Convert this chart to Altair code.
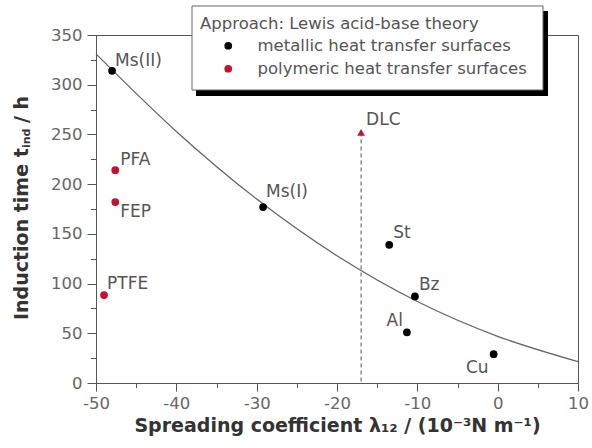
import altair as alt
import pandas as pd

# metallic heat transfer surfaces
metal_names = ["Ms(II)", "Ms(I)", "St", "Bz", "Al", "Cu"]
metal_x = [-48.0, -29.2, -13.5, -10.3, -11.3, -0.5]
metal_y = [314, 177, 139, 87, 51, 29]

# polymeric heat transfer surfaces
poly_names = ["PTFE", "PFA", "FEP"]
poly_x = [-49.0, -47.6, -47.6]
poly_y = [88.5, 214, 182]

# diamond-like carbon coating
dlc_name = "DLC"
dlc_x = -17.0
dlc_y = 252

# trend curve through the metallic surfaces
fit_x = [-50, -40, -30, -20, -10, 0, 10]
fit_y = [331, 253, 185, 128, 82, 47, 21.5]

metal_label = "metallic heat transfer surfaces"
poly_label = "polymeric heat transfer surfaces"

FONT = "DejaVu Sans"
RED = "#c8102e"
GREY = "#555555"

points = pd.DataFrame({
    "name": metal_names + poly_names,
    "x": metal_x + poly_x,
    "y": metal_y + poly_y,
    "group": [metal_label] * len(metal_names) + [poly_label] * len(poly_names),
})
dlc = pd.DataFrame({"name": [dlc_name], "x": [dlc_x], "y": [dlc_y]})
fit = pd.DataFrame({"x": fit_x, "y": fit_y})
labels = pd.concat([points[["name", "x", "y"]], dlc], ignore_index=True)

# label placement around each marker: (align, dx, dy)
label_style = {
    "Ms(II)": ("left", 3, -10),
    "Ms(I)": ("left", 3, -15),
    "St": ("left", 4, -12),
    "Bz": ("left", 4, -11),
    "Al": ("right", -4, -11),
    "Cu": ("right", -5, 14),
    "PTFE": ("left", 3, -11),
    "PFA": ("left", 5, -10),
    "FEP": ("left", 5, 10),
    "DLC": ("left", 5, -12),
}

xs = alt.Scale(domain=[-50, 10], nice=False, zero=False)
ys = alt.Scale(domain=[0, 350], nice=False, zero=False)

x_major = alt.Axis(
    orient="bottom", values=list(range(-50, 11, 10)), tickSize=8, labelPadding=4,
    labelFont=FONT, labelFontSize=16.5, labelColor="#666666", labelFlush=False,
    labelExpr="toString(datum.value)",
    domainColor=GREY, tickColor=GREY, grid=False,
    title="Spreading coefficient λ₁₂ / (10⁻³N m⁻¹)", titleFont=FONT,
    titleFontSize=19, titleFontWeight="bold", titleColor="#333333", titlePadding=5,
)
y_major = alt.Axis(
    orient="left", values=list(range(0, 351, 50)), tickSize=9, labelPadding=5,
    labelFont=FONT, labelFontSize=16.5, labelColor="#666666", labelFlush=False,
    domainColor=GREY, tickColor=GREY, grid=False, title=None,
)
x_minor = alt.Axis(
    orient="bottom", values=list(range(-50, 11, 5)), tickSize=4.5, labels=False,
    domain=False, tickColor=GREY, grid=False, title=None,
)
y_minor = alt.Axis(
    orient="left", values=list(range(0, 351, 25)), tickSize=5.5, labels=False,
    domain=False, tickColor=GREY, grid=False, title=None,
)

curve = alt.Chart(fit).mark_line(color="#666666", strokeWidth=1.3, interpolate="monotone").encode(
    x=alt.X("x:Q", scale=xs, axis=x_minor),
    y=alt.Y("y:Q", scale=ys, axis=y_minor),
)

dlc_rule = alt.Chart(dlc).mark_rule(color=GREY, strokeDash=[4, 3], strokeWidth=1).encode(
    x=alt.X("x:Q", scale=xs, axis=None),
    y=alt.Y("y:Q", scale=ys, axis=None),
    y2=alt.datum(0),
)

# framed legend box with a drop shadow
box_src = pd.DataFrame({"k": [0]})
shadow = alt.Chart(box_src).mark_rect(fill="black").encode(
    x=alt.value(100), x2=alt.value(452), y=alt.value(-24), y2=alt.value(61)
)
box = alt.Chart(box_src).mark_rect(fill="white", stroke="#666666", strokeWidth=1).encode(
    x=alt.value(96), x2=alt.value(447), y=alt.value(-29), y2=alt.value(55)
)

dots = alt.Chart(points).mark_point(filled=True, size=60, opacity=1).encode(
    x=alt.X("x:Q", scale=xs, axis=x_major),
    y=alt.Y("y:Q", scale=ys, axis=y_major),
    color=alt.Color(
        "group:N",
        scale=alt.Scale(domain=[metal_label, poly_label], range=["#000000", RED]),
        legend=alt.Legend(
            title="Approach: Lewis acid-base theory", orient="none", legendX=104, legendY=-19,
            padding=0, titleFont=FONT, titleFontSize=16.5, titleFontWeight="normal",
            titleColor=GREY, titlePadding=5, titleLimit=400, labelFont=FONT, labelFontSize=16.5,
            labelColor=GREY, labelLimit=400, symbolType="circle", symbolSize=60, symbolOffset=20,
            labelOffset=21, rowPadding=6, symbolStrokeWidth=0,
        ),
    ),
)

dlc_mark = alt.Chart(dlc).mark_point(filled=True, shape="triangle-up", size=60, color=RED, opacity=1).encode(
    x=alt.X("x:Q", scale=xs, axis=None),
    y=alt.Y("y:Q", scale=ys, axis=None),
)

text_layers = []
for name, (align, dx, dy) in label_style.items():
    text_layers.append(
        alt.Chart(labels).transform_filter(alt.datum.name == name).mark_text(
            align=align, baseline="middle", dx=dx, dy=dy, font=FONT, fontSize=17, color=GREY
        ).encode(
            x=alt.X("x:Q", scale=xs, axis=None),
            y=alt.Y("y:Q", scale=ys, axis=None),
            text="name:N",
        )
    )

# y-axis title with subscript, written in three pieces
ytitle_style = dict(angle=270, align="left", baseline="middle", font=FONT,
                    fontWeight="bold", color="#333333")
yt_main = alt.Chart(box_src).mark_text(text="Induction time t", fontSize=19, **ytitle_style).encode(
    x=alt.value(-74), y=alt.value(285)
)
yt_sub = alt.Chart(box_src).mark_text(text="ind", fontSize=11, **ytitle_style).encode(
    x=alt.value(-69), y=alt.value(113)
)
yt_unit = alt.Chart(box_src).mark_text(text="/ h", fontSize=19, **ytitle_style).encode(
    x=alt.value(-74), y=alt.value(88)
)

chart = alt.layer(
    curve, dlc_rule, shadow, box, dots, dlc_mark, *text_layers, yt_main, yt_sub, yt_unit
).resolve_axis(
    x="independent", y="independent"
).properties(
    width=482, height=348,
    autosize=alt.AutoSizeParams(type="none"),
    padding={"left": 96, "top": 35, "right": 14, "bottom": 65},
    background="white",
).configure_view(
    stroke=GREY, strokeWidth=1
)

chart.save("out.html", embed_options={"renderer": "svg", "actions": False})
